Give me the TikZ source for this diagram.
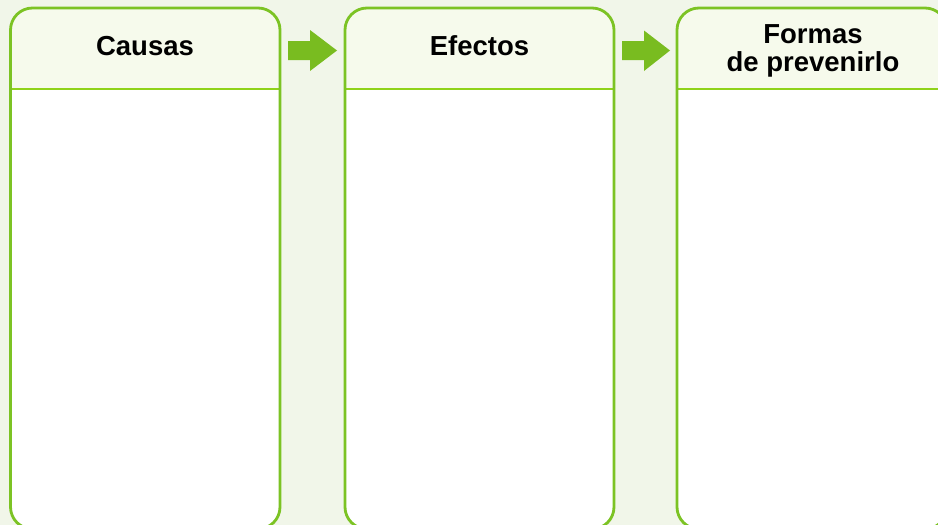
\documentclass[tikz,border=0pt]{standalone}
\usepackage{fontspec}
\setmainfont{Liberation Sans}
\definecolor{bgc}{HTML}{F1F6E9}
\definecolor{headc}{HTML}{F6FAEC}
\definecolor{borderc}{HTML}{7CC324}
\definecolor{linec}{HTML}{8FD21A}
\definecolor{arrowc}{HTML}{79BC20}
\begin{document}
\begin{tikzpicture}[x=1pt,y=-1pt,
  paneltext/.style={font=\fontsize{27.5}{27.5}\selectfont\bfseries, align=center, inner sep=0pt},
  panelborder/.style={draw=borderc, line width=2.8pt, rounded corners=22pt},
  headline/.style={draw=linec, line width=2.8pt},
  arrowshape/.style={fill=arrowc, draw=none}
]
\useasboundingbox (0,0) rectangle (938,525);
\fill[bgc] (0,0) rectangle (938,525);
\begin{scope}
\clip (0,0) rectangle (938,525);
\foreach \name/\xl/\xr in {p1/10.5/280, p2/345/614, p3/677/947}{
  \coordinate (\name-nw) at (\xl,8);
  \coordinate (\name-se) at (\xr,529);
  \fill[white, rounded corners=22pt] (\name-nw) rectangle (\name-se);
  \begin{scope}
    \clip[rounded corners=22pt] (\name-nw) rectangle (\name-se);
    \fill[headc] (\xl,0) rectangle (\xr,89);
  \end{scope}
  \coordinate (\name-hl) at (\xl,89);
  \coordinate (\name-hr) at (\xr,89);
  \draw[headline] (\name-hl) -- (\name-hr);
  \draw[panelborder] (\name-nw) rectangle (\name-se);
}
\end{scope}
\node[paneltext, anchor=base] (t1) at (145,55.5) {Causas};
\node[paneltext, anchor=base] (t2) at (479.5,55.5) {Efectos};
\node[paneltext, anchor=base] (t3a) at (813,43.5) {Formas};
\node[paneltext, anchor=base] (t3b) at (813,71) {de prevenirlo};
% arrows
\coordinate (a1) at (288,50.5);
\fill[arrowshape] (a1) ++(0,-9.5) -- ++(22,0) -- ++(0,-11) -- (337,50.5) -- (310,71) -- ++(0,-11) -- (288,60) -- cycle;
\coordinate (a2) at (622,50.5);
\fill[arrowshape] (a2) ++(0,-9.5) -- ++(22,0) -- ++(0,-10.5) -- (670,50.5) -- (644,71) -- ++(0,-11) -- (622,60) -- cycle;
\end{tikzpicture}
\end{document}
